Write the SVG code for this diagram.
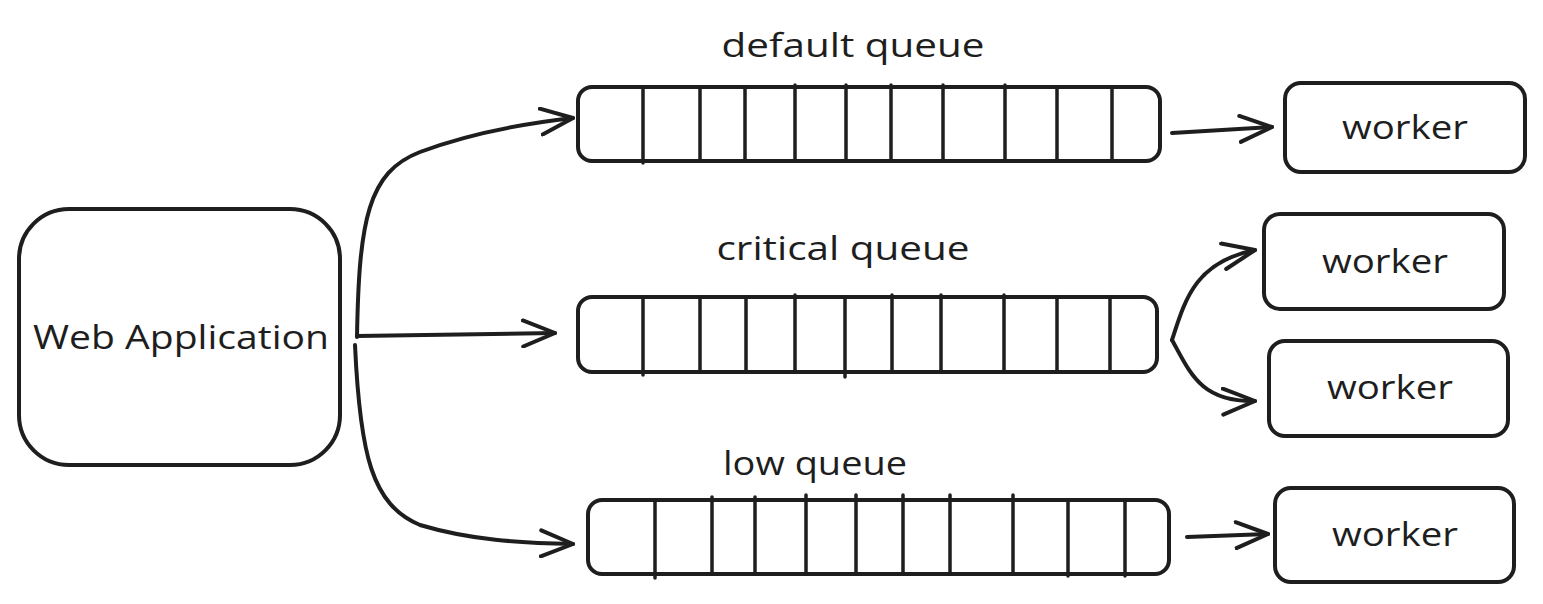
<svg xmlns="http://www.w3.org/2000/svg" width="1543" height="604" viewBox="0 0 1543 604">
<defs>
<style>
.box{fill:#fff;stroke:#1e1e1e;stroke-width:4}
.div{stroke:#1e1e1e;stroke-width:3.5;fill:none;stroke-linecap:round}
.conn{stroke:#1e1e1e;stroke-width:4;fill:none;stroke-linecap:round}
.lbl{font-family:"Open Sans","Liberation Sans",sans-serif;font-size:32px;fill:#1e1e1e;text-anchor:middle;dominant-baseline:central}
</style>
<marker id="ah" viewBox="0 0 36 30" refX="34" refY="15" markerWidth="36" markerHeight="30" markerUnits="userSpaceOnUse" orient="auto">
<path d="M2,2 L34,15 L2,28" fill="none" stroke="#1e1e1e" stroke-width="4" stroke-linecap="round" stroke-linejoin="round"/>
</marker>
</defs>
<rect width="1543" height="604" fill="#fff"/>

<g id="web-app">
<rect class="box" x="19" y="209" width="321" height="256" rx="50"/>
<text class="lbl" x="181" y="336" textLength="296" lengthAdjust="spacingAndGlyphs">Web Application</text>
</g>

<g id="default-queue">
<text class="lbl" x="853" y="44" textLength="263" lengthAdjust="spacingAndGlyphs">default queue</text>
<rect class="box" x="578" y="87" width="582" height="74" rx="14"/>
<path class="div" d="M643,87V163 M700,87V161 M745,87V161 M795,85V161 M846,85V161 M891,85V161 M943,85V161 M1005,85V161 M1057,87V161 M1112,87V161"/>
</g>

<g id="critical-queue">
<text class="lbl" x="843" y="247" textLength="253" lengthAdjust="spacingAndGlyphs">critical queue</text>
<rect class="box" x="578" y="297" width="579" height="75" rx="14"/>
<path class="div" d="M643,299V375 M700,297V372 M746,297V372 M795,295V372 M845,297V377 M892,295V372 M941,295V372 M1004,295V372 M1057,297V372 M1110,297V372"/>
</g>

<g id="low-queue">
<text class="lbl" x="815" y="462" textLength="184" lengthAdjust="spacingAndGlyphs">low queue</text>
<rect class="box" x="588" y="500" width="581" height="74" rx="14"/>
<path class="div" d="M655,502V578 M712,497V574 M755,497V574 M806,495V574 M856,495V574 M903,495V574 M950,495V574 M1013,495V574 M1068,500V576 M1125,500V576"/>
</g>

<g id="worker-default">
<rect class="box" x="1285" y="83" width="240" height="89" rx="16"/>
<text class="lbl" x="1405" y="126" textLength="126" lengthAdjust="spacingAndGlyphs">worker</text>
</g>

<g id="worker-critical-1">
<rect class="box" x="1264" y="214" width="240" height="95" rx="16"/>
<text class="lbl" x="1385" y="260" textLength="126" lengthAdjust="spacingAndGlyphs">worker</text>
</g>

<g id="worker-critical-2">
<rect class="box" x="1269" y="341" width="239" height="95" rx="16"/>
<text class="lbl" x="1390" y="386" textLength="126" lengthAdjust="spacingAndGlyphs">worker</text>
</g>

<g id="worker-low">
<rect class="box" x="1275" y="488" width="239" height="94" rx="16"/>
<text class="lbl" x="1395" y="533" textLength="126" lengthAdjust="spacingAndGlyphs">worker</text>
</g>

<g id="connectors">
<path class="conn" marker-end="url(#ah)" d="M357,337 C359,220 368,172 420,152 C468,134 520,124 573,118"/>
<path class="conn" marker-end="url(#ah)" d="M357,336 L555,333"/>
<path class="conn" marker-end="url(#ah)" d="M355,345 C360,455 372,505 420,525 C470,540 520,543 573,544"/>
<path class="conn" marker-end="url(#ah)" d="M1172,133 L1272,127"/>
<path class="conn" marker-end="url(#ah)" d="M1172,340 C1185,300 1195,262 1255,250"/>
<path class="conn" marker-end="url(#ah)" d="M1172,340 C1190,372 1200,402 1255,401"/>
<path class="conn" marker-end="url(#ah)" d="M1187,537 L1268,534"/>
</g>
</svg>
